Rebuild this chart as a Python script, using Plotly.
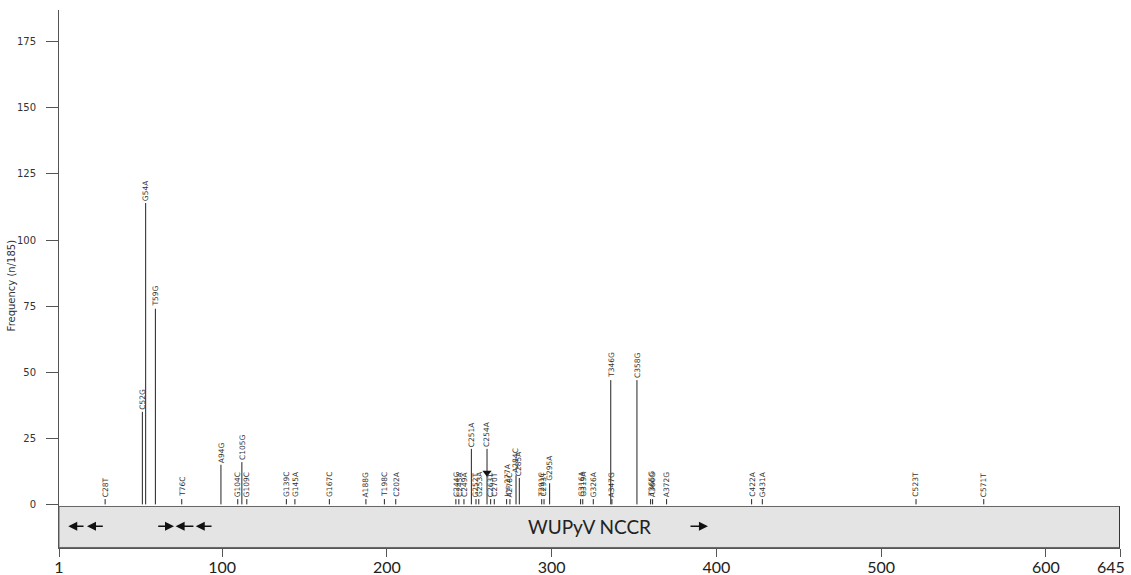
import plotly.graph_objects as go

# ---- data ----
mutations = ["C28T", "C52G", "G54A", "T59G", "T76C", "A94G", "G104C", "C105G", "G109C",
             "G139C", "G145A", "G167C", "A188G", "T198C", "C202A",
             "C244G", "C245A", "C249A", "C251A", "G252T", "G253A", "C254A", "C263T", "C270T",
             "Ins 277A", "A278C", "A284C", "C285A", "T291C", "C293T", "G295A",
             "G316A", "G319A", "G326A", "T346G", "A347G", "C358G", "T365G", "A366G", "A372G",
             "C422A", "G431A", "C523T", "C571T"]
positions = [29, 51.6, 53.6, 59.5, 75.5, 99.3, 109.5, 112, 115,
             139, 144.2, 165.1, 187.3, 198.5, 205.4,
             241.9, 243.7, 246.8, 251.3, 254.1, 255.8, 260.8, 263.0, 265.2,
             272.7, 274.7, 278.4, 280.4, 294.0, 295.4, 298.8,
             317.6, 318.9, 325.3, 335.9, 336.6, 351.8, 360.1, 361.3, 369.8,
             421.4, 427.9, 521.2, 562.3]
frequencies = [2, 35, 114, 74, 2, 15, 2, 16, 2,
               2, 2, 2, 2, 2, 2,
               2, 2, 2, 21, 2, 2, 21, 2, 2,
               2, 2, 11, 10, 2, 2, 8,
               2, 2, 2, 47, 2, 47, 2, 2, 2,
               2, 2, 2, 2]

marker_pos = [260.8]      # arrowhead drawn on the C254A stem
marker_val = [12]

region_label = "WUPyV NCCR"
region_start, region_end = 1, 645
region_low, region_high = -16.3, -0.8
region_mid = -8.3

# arrows inside the region bar: (head, tail)
arrow_heads = [6.6, 18.0, 70.8, 71.8, 84.0, 394.9]
arrow_tails = [16.8, 28.5, 60.3, 83.5, 94.5, 383.4]

x_ticks = [1, 100, 200, 300, 400, 500, 600, 645]
x_ticktext = ["1", "100", "200", "300", "400", "500", "600", ""]
end_label = "645"
y_ticks = [0, 25, 50, 75, 100, 125, 150, 175]
y_title = "Frequency (n/185)"

# ---- figure ----
stem_x, stem_y = [], []
for p, f in zip(positions, frequencies):
    stem_x += [p, p, None]
    stem_y += [0, f, None]

fig = go.Figure()
fig.add_shape(type="rect", xref="x", yref="y", x0=region_start, x1=region_end,
              y0=region_low, y1=region_high, fillcolor="#e4e4e4",
              line=dict(color="#666666", width=1), layer="below")
fig.add_shape(type="line", xref="x", yref="y", x0=region_end, x1=region_end,
              y0=region_low, y1=region_high, line=dict(color="#111111", width=1.5))

fig.add_trace(go.Scatter(x=stem_x, y=stem_y, mode="lines",
                         line=dict(color="#222222", width=1), hoverinfo="skip",
                         showlegend=False))
fig.add_trace(go.Scatter(x=marker_pos, y=marker_val, mode="markers",
                         marker=dict(symbol="triangle-down", size=8, color="#111111"),
                         hoverinfo="skip", showlegend=False))

for m, p, f in zip(mutations, positions, frequencies):
    fig.add_annotation(x=p, y=f, text=m, showarrow=False, textangle=-90,
                       xanchor="center", yanchor="bottom", yshift=0,
                       font=dict(family="DejaVu Sans", size=7.5, color="#333333"))

for h, t in zip(arrow_heads, arrow_tails):
    fig.add_annotation(x=h, y=region_mid, ax=t, ay=region_mid, axref="x", ayref="y",
                       xref="x", yref="y", text="", showarrow=True,
                       arrowhead=2, arrowsize=1.2, arrowwidth=1.5, arrowcolor="#111111")

fig.add_annotation(x=323, y=region_mid, text=region_label, showarrow=False,
                   xref="x", yref="y",
                   font=dict(family="Lato", size=19, color="#222222"))

fig.add_annotation(x=region_end, y=0, xref="x", yref="paper", text=end_label,
                   showarrow=False, xanchor="right", yanchor="top", xshift=7, yshift=-7,
                   font=dict(family="Lato", size=16, color="#222222"))

fig.add_annotation(x=-0.0448, y=0.489, xref="paper", yref="paper", text=y_title,
                   showarrow=False, textangle=-90, xanchor="center", yanchor="middle",
                   font=dict(family="DejaVu Sans", size=10, color="#333333"))

fig.update_layout(
    width=1131, height=575,
    margin=dict(l=59, r=11, t=10, b=27),
    plot_bgcolor="white", paper_bgcolor="white",
    showlegend=False,
    xaxis=dict(range=[region_start, region_end], tickvals=x_ticks,
               ticktext=x_ticktext,
               ticks="outside", ticklen=8, tickcolor="#555555",
               showline=True, linecolor="#555555", linewidth=1,
               showgrid=False, zeroline=False, automargin=False,
               ticklabeloverflow="allow", ticklabelstandoff=-3,
               tickfont=dict(family="Lato", size=16, color="#222222")),
    yaxis=dict(range=[-16.5, 187], tickvals=y_ticks,
               ticks="outside", ticklen=12, tickcolor="#555555",
               showline=True, linecolor="#555555", linewidth=1,
               showgrid=False, zeroline=False, ticklabelstandoff=8,
               automargin=False,
               tickfont=dict(family="DejaVu Sans", size=10, color="#333333")),
)

fig.write_html("out.html", config={"displayModeBar": False},
               post_script="document.body.style.margin='0';document.body.style.overflow='hidden';")
